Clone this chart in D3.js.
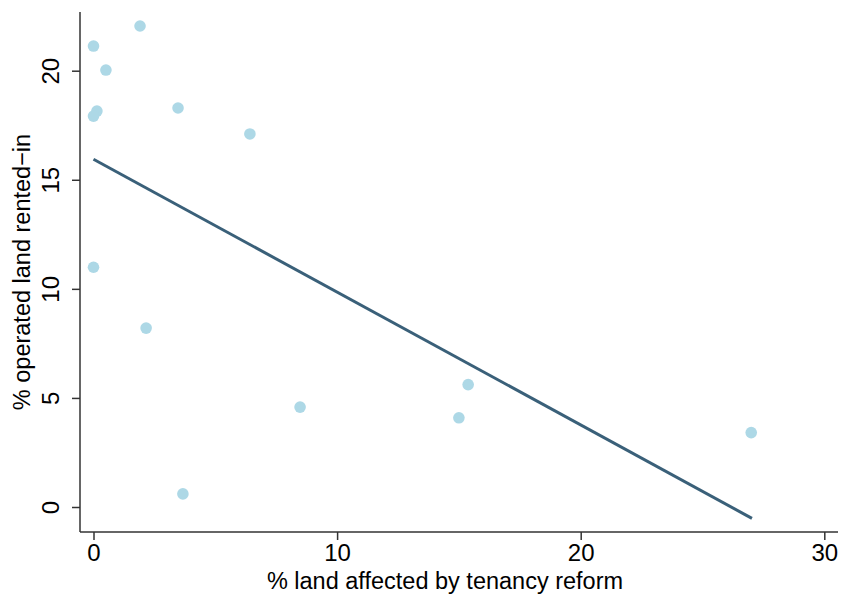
<!DOCTYPE html>
<html>
<head>
<meta charset="utf-8">
<script src="https://cdn.jsdelivr.net/npm/d3@7"></script>
<style>
  html, body { margin: 0; padding: 0; background: #fff; }
  svg { display: block; }
  text { font-family: "Liberation Sans", Arial, sans-serif; fill: #000; }
</style>
</head>
<body>
<svg id="chart" width="842" height="595"></svg>
<script>
// Data
const tenancyReform = [0, 1.91, 0.51, 0.14, 0, 3.47, 6.42, 0, 2.16, 8.48, 15.38, 15.0, 27.0, 3.67];
const rentedIn      = [21.13, 22.05, 20.03, 18.15, 17.92, 18.29, 17.1, 10.99, 8.2, 4.58, 5.61, 4.09, 3.41, 0.6];
const fitX = [0, 27.03];
const fitY = [15.94, -0.52];
const xTicks = [0, 10, 20, 30];
const yTicks = [0, 5, 10, 15, 20];
const xLabel = "% land affected by tenancy reform";
const yLabel = "% operated land rented\u2212in";

const svg = d3.select("#chart");
const x = d3.scaleLinear().domain([0, 30]).range([93.5, 824.3]);
const y = d3.scaleLinear().domain([0, 20]).range([507, 70.7]);

const axisLeftX = 80, axisBottomY = 532, plotTop = 12, plotRight = 838;
const axisColor = "#333";

// Y axis
const gy = svg.append("g").attr("transform", `translate(${axisLeftX},0)`)
  .call(d3.axisLeft(y).tickValues(yTicks).tickSize(8).tickPadding(0).tickFormat(d3.format("d")));
gy.select(".domain").remove();
gy.selectAll(".tick line").attr("stroke", axisColor).attr("stroke-width", 1.5);
gy.selectAll(".tick text")
  .attr("x", -30).attr("dy", 0)
  .style("font-size", "24px")
  .attr("text-anchor", "middle")
  .attr("transform", "rotate(-90, -30, 0)").attr("y", 8.5);
gy.append("line").attr("x1", 0).attr("x2", 0).attr("y1", plotTop).attr("y2", axisBottomY)
  .attr("stroke", axisColor).attr("stroke-width", 1.5);

// X axis
const gx = svg.append("g").attr("transform", `translate(0,${axisBottomY})`)
  .call(d3.axisBottom(x).tickValues(xTicks).tickSize(8).tickPadding(4).tickFormat(d3.format("d")));
gx.select(".domain").remove();
gx.selectAll(".tick line").attr("stroke", axisColor).attr("stroke-width", 1.5);
gx.selectAll(".tick text").style("font-size", "24px").attr("dy", "0.71em");
gx.append("line").attr("x1", axisLeftX).attr("x2", plotRight).attr("y1", 0).attr("y2", 0)
  .attr("stroke", axisColor).attr("stroke-width", 1.5);

// Points
const pts = tenancyReform.map((v, i) => ({x: v, y: rentedIn[i]}));
svg.append("g").selectAll("circle").data(pts).join("circle")
  .attr("cx", d => x(d.x)).attr("cy", d => y(d.y)).attr("r", 5.8)
  .attr("fill", "#add8e6");

// Fit line
const fit = fitX.map((v, i) => [v, fitY[i]]);
svg.append("path").datum(fit)
  .attr("d", d3.line().x(d => x(d[0])).y(d => y(d[1])))
  .attr("fill", "none").attr("stroke", "#3a6079").attr("stroke-width", 3);

// Axis titles
svg.append("text").attr("x", 445).attr("y", 589).attr("text-anchor", "middle")
  .style("font-size", "23.5px").text(xLabel);
svg.append("text").attr("transform", "translate(30,272) rotate(-90)").attr("text-anchor", "middle")
  .style("font-size", "23.5px").text(yLabel);
</script>
</body>
</html>
